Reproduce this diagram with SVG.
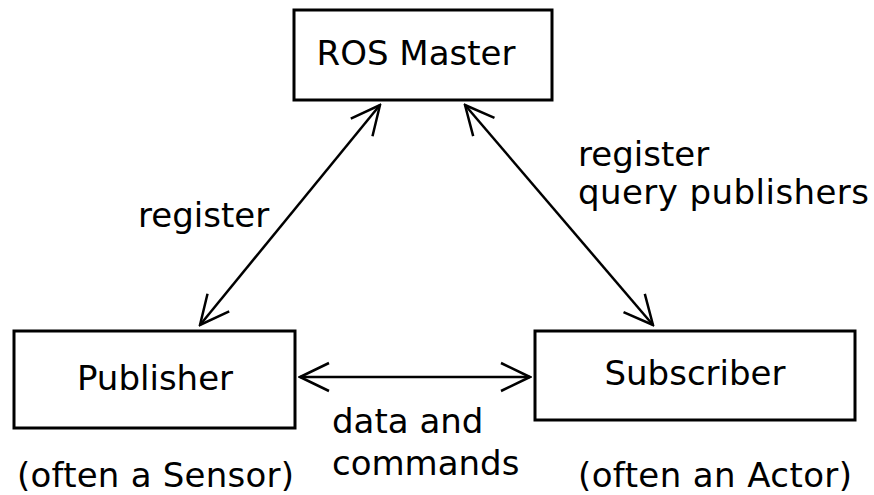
<svg xmlns="http://www.w3.org/2000/svg" width="874" height="495" viewBox="0 0 874 495">
<style>
.box{fill:#fff;stroke:#000;stroke-width:3}
.t{font-family:"DejaVu Sans",sans-serif;font-size:34px;fill:#000}
.c{text-anchor:middle}
.ln{stroke:#000;stroke-width:2.5;fill:none;marker-start:url(#ah);marker-end:url(#ah)}
</style>
<defs>
<marker id="ah" markerUnits="userSpaceOnUse" viewBox="-32 -16 34 32" refX="0" refY="0" markerWidth="34" markerHeight="32" orient="auto-start-reverse">
<path d="M-29,-14 L0,0 L-29,14" fill="none" stroke="#000" stroke-width="2.5"/>
</marker>
</defs>
<rect width="874" height="495" fill="#fff"/>
<g id="connectors">
<line class="ln" x1="200" y1="325" x2="380" y2="105"/>
<line class="ln" x1="465" y1="105" x2="653" y2="325"/>
<line class="ln" x1="300" y1="377" x2="530" y2="377"/>
</g>
<g id="ros-master">
<rect class="box" x="294" y="10" width="258" height="90"/>
<text class="t c" x="416" y="65" font-size="33">ROS Master</text>
</g>
<g id="publisher">
<rect class="box" x="14" y="331" width="281" height="97"/>
<text class="t c" x="155" y="390">Publisher</text>
</g>
<g id="subscriber">
<rect class="box" x="535" y="331" width="320" height="89"/>
<text class="t c" x="695" y="385">Subscriber</text>
</g>
<g id="labels">
<text class="t" x="138" y="227">register</text>
<text class="t" x="578" y="166" font-size="33">register</text>
<text class="t" x="578" y="204" font-size="33" textLength="291">query publishers</text>
<text class="t" x="332" y="433">data and</text>
<text class="t" x="332" y="475">commands</text>
<text class="t" x="17" y="487" textLength="277">(often a Sensor)</text>
<text class="t" x="578" y="487" textLength="274">(often an Actor)</text>
</g>
</svg>
